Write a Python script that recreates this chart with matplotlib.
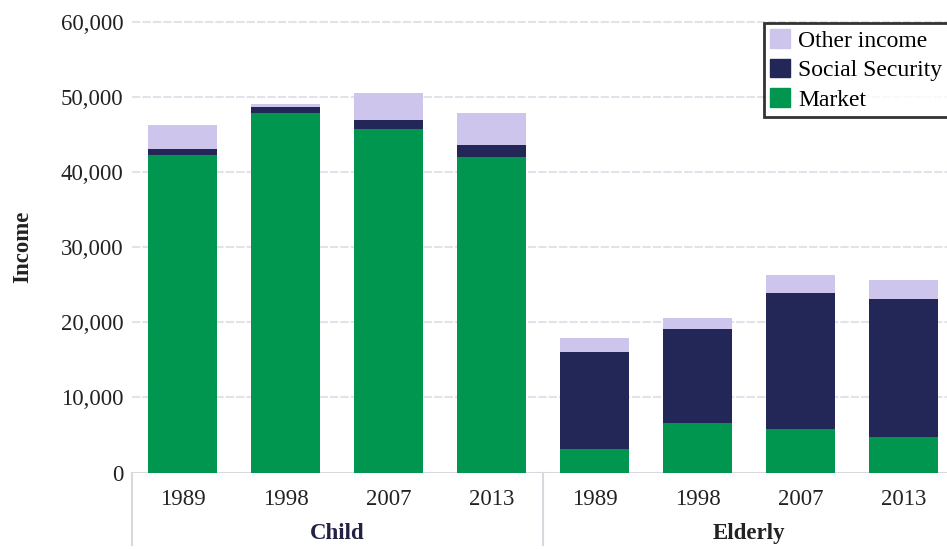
import matplotlib
matplotlib.use('Agg')
import matplotlib.pyplot as plt
from matplotlib.patches import Patch
import numpy as np

years = ['1989', '1998', '2007', '2013']
groups = ['Child', 'Elderly']

# average income components, child households first then elderly
market = [42200, 47800, 45700, 42000, 3100, 6600, 5750, 4700]
social_security = [800, 850, 1200, 1550, 12950, 12500, 18150, 18350]
other_income = [3200, 350, 3550, 4300, 1850, 1500, 2350, 2500]

green = '#00964f'
navy = '#232757'
lavender = '#cdc5ec'
grid_col = '#e2e2ea'

plt.rcParams['font.family'] = ['Liberation Serif', 'DejaVu Serif']

fig = plt.figure(figsize=(9.47, 5.49), dpi=100)
ax = fig.add_axes([0.1394, 0.1393, 0.8606, 0.8215])

x = np.arange(len(market))
w = 0.67
mk = np.array(market)
ss = np.array(social_security)
ot = np.array(other_income)

ax.bar(x, mk, w, color=green, zorder=3)
ax.bar(x, ss, w, bottom=mk, color=navy, zorder=3)
ax.bar(x, ot, w, bottom=mk + ss, color=lavender, zorder=3)

ax.set_xlim(-0.49, 7.42)
ax.set_ylim(0, 60000)
ax.set_yticks(np.arange(0, 60001, 10000))
ax.set_yticklabels(['{:,}'.format(v) for v in range(0, 60001, 10000)],
                   fontsize=16.5, color='#222222')
for v in range(10000, 60001, 10000):
  ax.axhline(v, color=grid_col, lw=1.5, ls=(0, (4, 1)), zorder=1, clip_on=False)
ax.axhline(0, color='#d8d8de', lw=1.5, zorder=2)

ax.set_xticks(x)
ax.set_xticklabels(years * 2, fontsize=16.5, color='#222222')
ax.tick_params(axis='both', length=0)
ax.tick_params(axis='y', pad=6)
ax.tick_params(axis='x', pad=12)
for s in ax.spines.values():
  s.set_visible(False)

# group separators and group names under the year labels
trans = ax.get_xaxis_transform()
for xv in [-0.49, 3.5]:
  ax.plot([xv, xv], [0, -0.16], color='#d8d8de', lw=1.5, transform=trans, clip_on=False)
ax.text(1.5, -0.135, groups[0], transform=trans, ha='center', va='center',
        fontsize=16.5, fontweight='bold', color='#222244')
ax.text(5.5, -0.135, groups[1], transform=trans, ha='center', va='center',
        fontsize=16.5, fontweight='bold', color='#222222')

ax.set_ylabel('Income', fontsize=16.5, fontweight='bold', color='#222222', labelpad=20)

handles = [Patch(color=lavender, label='Other income'),
           Patch(color=navy, label='Social Security'),
           Patch(color=green, label='Market')]
leg = fig.legend(handles=handles, loc='upper left', bbox_to_anchor=(0.807, 0.958),
                 fontsize=17, frameon=True, fancybox=False, borderpad=0.25,
                 handlelength=0.85, handleheight=0.85, handletextpad=0.35,
                 labelspacing=0.3, borderaxespad=0)
leg.get_frame().set_edgecolor('black')
leg.get_frame().set_linewidth(2)

fig.savefig('out.png', dpi=100)
